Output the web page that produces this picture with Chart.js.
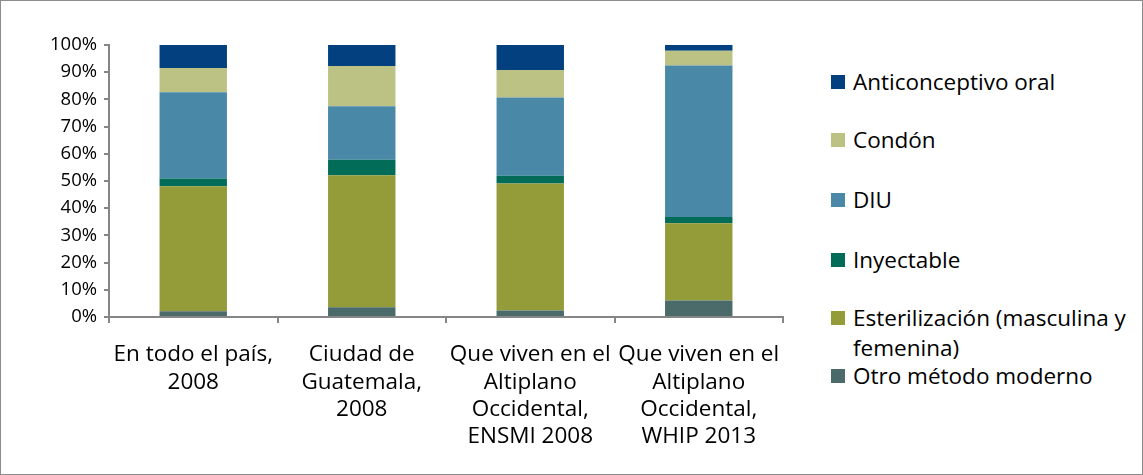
<!DOCTYPE html>
<html>
<head>
<meta charset="utf-8">
<script src="https://cdn.jsdelivr.net/npm/chart.js@4"></script>
<style>
  html, body { margin:0; padding:0; background:#fff; }
  #frame { position:relative; width:1141px; height:473px; border:1px solid #8c8c8c; font-family:"Open Sans", sans-serif; }
  #wrap { position:absolute; left:0; top:0; width:800px; height:473px; }
  #legend { position:absolute; left:830px; top:0; font-size:22.5px; color:#000; }
  .item { position:absolute; left:0; white-space:nowrap; line-height:30px; }
  .sw { display:inline-block; width:14px; height:14px; margin-right:8px; vertical-align:middle; position:relative; top:-2px; }
</style>
</head>
<body>
<div id="frame">
  <div id="wrap"><canvas id="chart"></canvas></div>
  <div id="legend"></div>
</div>
<script>
// categories (x labels, one line per array entry)
const categories = [
  ["En todo el país,", "2008"],
  ["Ciudad de", "Guatemala,", "2008"],
  ["Que viven en el", "Altiplano", "Occidental,", "ENSMI 2008"],
  ["Que viven en el", "Altiplano", "Occidental,", "WHIP 2013"]
];

// series (bottom to top of each bar), values in %
const otro      = [2.1, 3.6, 2.4, 6.1];
const esterili  = [46.0, 48.5, 46.7, 28.4];
const inyect    = [2.8, 5.7, 2.8, 2.3];
const diu       = [31.7, 19.7, 28.8, 55.7];
const condon    = [8.9, 14.8, 10.1, 5.4];
const oral      = [8.5, 7.7, 9.2, 2.1];

const seriesNames = ["Otro método moderno", "Esterilización (masculina y\nfemenina)", "Inyectable", "DIU", "Condón", "Anticonceptivo oral"];
const seriesData = [otro, esterili, inyect, diu, condon, oral];
const seriesColors = ["#4b6b6b", "#939c39", "#036c58", "#4a88a8", "#bcc283", "#02407f"];

// y ticks
const yTicks = [0, 10, 20, 30, 40, 50, 60, 70, 80, 90, 100];

const datasets = seriesNames.map((name, i) => ({
  label: name,
  data: seriesData[i],
  backgroundColor: seriesColors[i],
  borderWidth: 0,
  barPercentage: 0.4,
  categoryPercentage: 1
}));

const axisColor = "#868686";
const fontFam = "'Open Sans', sans-serif";

new Chart(document.getElementById("chart"), {
  type: "bar",
  data: { labels: categories, datasets },
  options: {
    responsive: true,
    maintainAspectRatio: false,
    animation: false,
    layout: { padding: { top: 44, left: 0, right: 18, bottom: 0 } },
    plugins: { legend: { display: false }, tooltip: { enabled: false } },
    scales: {
      x: {
        stacked: true,
        afterFit: s => { s.height = 157; },
        grid: { display: true, drawOnChartArea: false, offset: true, tickLength: 6, color: axisColor, lineWidth: 2 },
        border: { color: axisColor, width: 2 },
        ticks: { color: "#000", maxRotation: 0, autoSkip: false, padding: 18, font: { family: fontFam, size: 22.5, lineHeight: 1.22 } }
      },
      y: {
        stacked: true,
        min: 0,
        max: 100,
        afterFit: s => { s.width = 108; },
        afterBuildTicks: s => { s.ticks = yTicks.map(v => ({ value: v })); },
        grid: { display: true, drawOnChartArea: false, tickLength: 5, color: axisColor, lineWidth: 2 },
        border: { color: axisColor, width: 2 },
        ticks: { color: "#000", padding: 7, font: { family: fontFam, size: 18.5 }, callback: v => v + "%" }
      }
    }
  }
});

// legend (top to bottom = reverse of stacking)
const legendTops = [66, 124, 184, 244, 302, 360];
const legend = document.getElementById("legend");
seriesNames.slice().reverse().forEach((name, k) => {
  const idx = seriesNames.length - 1 - k;
  const lines = name.split("\n");
  const div = document.createElement("div");
  div.className = "item";
  div.style.top = legendTops[k] + "px";
  div.innerHTML = `<span class="sw" style="background:${seriesColors[idx]}"></span>${lines[0]}` +
    (lines[1] ? `<br><span style="padding-left:22px">${lines[1]}</span>` : "");
  legend.appendChild(div);
});
</script>
</body>
</html>
